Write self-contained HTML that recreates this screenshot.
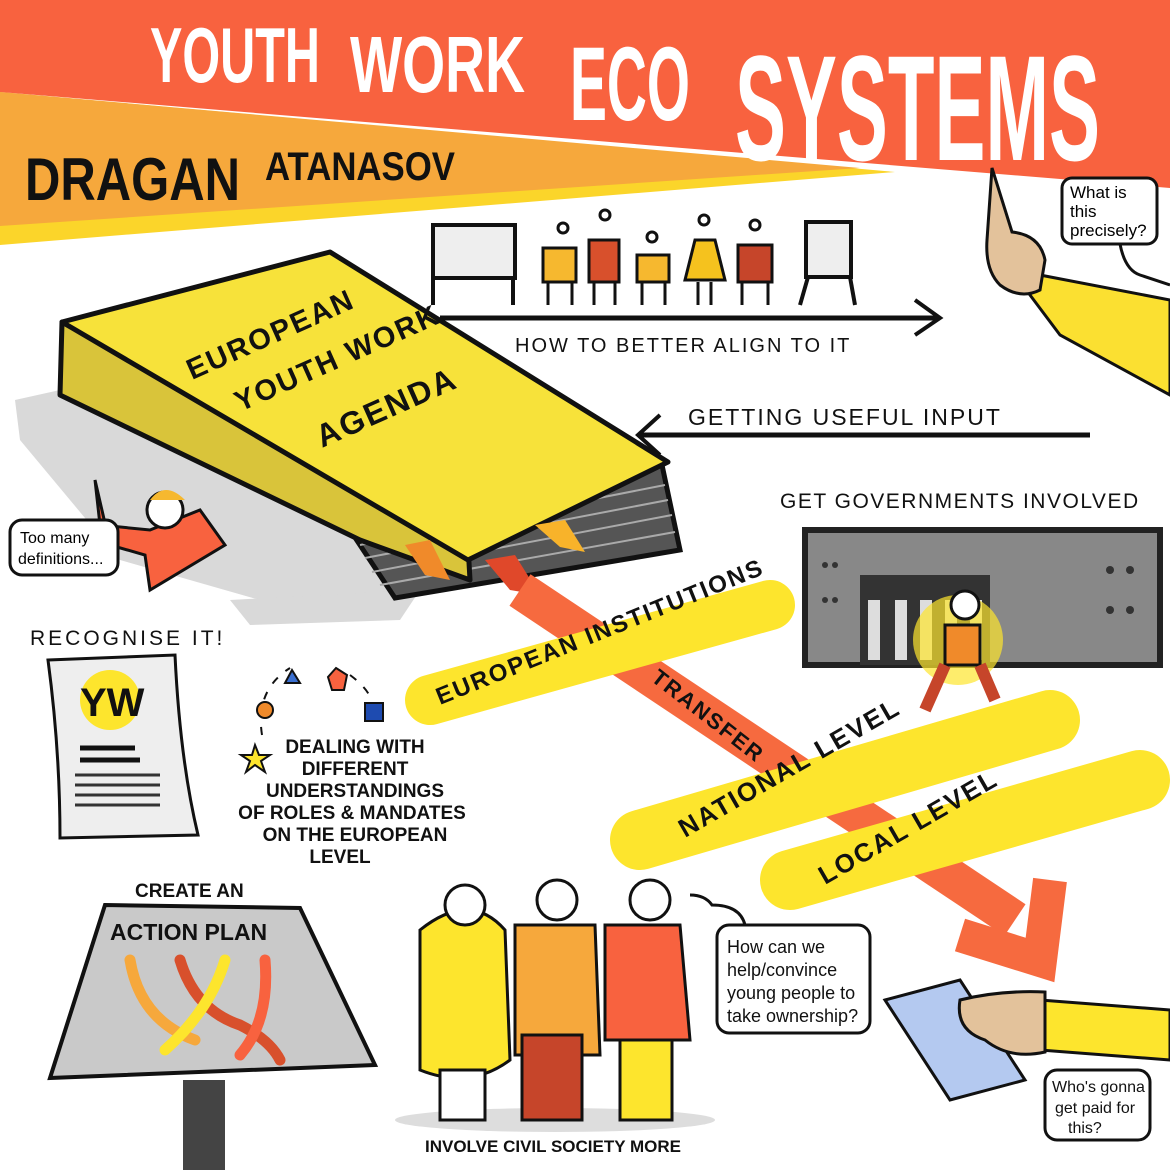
<!DOCTYPE html>
<html><head><meta charset="utf-8"><style>
html,body{margin:0;padding:0;background:#fff}
svg{display:block}
text{font-family:"Liberation Sans",sans-serif}
</style></head><body>
<svg width="1170" height="1170" viewBox="0 0 1170 1170" xmlns="http://www.w3.org/2000/svg">
<rect width="1170" height="1170" fill="#fff"/>
<!-- banners -->
<polygon points="0,92 0,245 895,172" fill="#fbd52a"/>
<polygon points="0,92 0,226 860,168" fill="#f6a83c"/>
<polygon points="0,0 1170,0 1170,188 0,92" fill="#f8623f"/>
<g fill="#fff" font-weight="bold" font-family="Liberation Sans Narrow, Liberation Sans, sans-serif">
<text x="150" y="82" font-size="78" textLength="170" lengthAdjust="spacingAndGlyphs">YOUTH</text>
<text x="350" y="92" font-size="80" textLength="175" lengthAdjust="spacingAndGlyphs">WORK</text>
<text x="570" y="120" font-size="105" textLength="120" lengthAdjust="spacingAndGlyphs">ECO</text>
<text x="735" y="160" font-size="150" textLength="365" lengthAdjust="spacingAndGlyphs">SYSTEMS</text>
</g>
<g fill="#111" font-weight="bold">
<text x="25" y="200" font-size="60" textLength="215" lengthAdjust="spacingAndGlyphs">DRAGAN</text>
<text x="265" y="180" font-size="40" textLength="190" lengthAdjust="spacingAndGlyphs">ATANASOV</text>
</g>
<!-- top right hand -->
<polygon points="1040,275 1170,300 1170,395 1060,335 1030,295" fill="#fbe031" stroke="#111" stroke-width="3"/>
<path d="M992,168 L1012,232 Q1040,235 1045,260 L1040,290 Q1020,300 1000,285 Q985,270 987,240 Z" fill="#e3c29b" stroke="#111" stroke-width="3"/>
<rect x="1062" y="178" width="95" height="66" rx="10" fill="#fff" stroke="#111" stroke-width="3"/>
<text x="1070" y="198" font-size="17">What is</text><text x="1070" y="217" font-size="17">this</text><text x="1070" y="236" font-size="17">precisely?</text>
<path d="M1120,244 Q1125,270 1140,275 Q1155,280 1170,285" fill="none" stroke="#111" stroke-width="3"/>
<!-- flipcharts & people -->
<rect x="433" y="225" width="82" height="53" fill="#eee" stroke="#111" stroke-width="4"/>
<line x1="433" y1="278" x2="433" y2="305" stroke="#111" stroke-width="4"/><line x1="513" y1="278" x2="513" y2="305" stroke="#111" stroke-width="4"/>
<rect x="806" y="222" width="45" height="55" fill="#eee" stroke="#111" stroke-width="4"/>
<line x1="808" y1="277" x2="800" y2="305" stroke="#111" stroke-width="4"/><line x1="850" y1="277" x2="855" y2="305" stroke="#111" stroke-width="4"/>
<g stroke="#111" stroke-width="3">
<circle cx="563" cy="228" r="5" fill="#fff"/><rect x="543" y="248" width="33" height="34" fill="#f6b82f"/>
<circle cx="605" cy="215" r="5" fill="#fff"/><rect x="589" y="240" width="30" height="42" fill="#d8502c"/>
<circle cx="652" cy="237" r="5" fill="#fff"/><rect x="637" y="255" width="32" height="27" fill="#f6b82f"/>
<circle cx="704" cy="220" r="5" fill="#fff"/><polygon points="695,240 715,240 725,280 685,280" fill="#f5c21e"/>
<circle cx="755" cy="225" r="5" fill="#fff"/><rect x="738" y="245" width="34" height="37" fill="#c6452a"/>
</g>
<g stroke="#111" stroke-width="3">
<line x1="548" y1="282" x2="548" y2="305"/><line x1="572" y1="282" x2="572" y2="305"/>
<line x1="594" y1="282" x2="594" y2="305"/><line x1="615" y1="282" x2="615" y2="305"/>
<line x1="642" y1="282" x2="642" y2="305"/><line x1="665" y1="282" x2="665" y2="305"/>
<line x1="698" y1="282" x2="698" y2="305"/><line x1="711" y1="282" x2="711" y2="305"/>
<line x1="742" y1="282" x2="742" y2="305"/><line x1="768" y1="282" x2="768" y2="305"/>
</g>
<line x1="440" y1="318" x2="940" y2="318" stroke="#111" stroke-width="5"/>
<polyline points="915,300 940,318 915,335" fill="none" stroke="#111" stroke-width="4"/>
<text x="515" y="352" font-size="20" letter-spacing="2" fill="#111">HOW TO BETTER ALIGN TO IT</text>
<text x="688" y="425" font-size="23" letter-spacing="2" fill="#111">GETTING USEFUL INPUT</text>
<line x1="640" y1="435" x2="1090" y2="435" stroke="#111" stroke-width="5"/>
<polyline points="660,415 638,435 660,455" fill="none" stroke="#111" stroke-width="4"/>
<!-- shadow -->
<polygon points="15,400 60,390 360,540 400,600 420,590 260,600 120,560 20,440" fill="#d9d9d9"/>
<polygon points="230,600 420,590 400,620 250,625" fill="#d9d9d9"/>
<!-- book -->
<polygon points="350,530 662,465 680,550 395,598" fill="#555" stroke="#111" stroke-width="5"/>
<g stroke="#aaa" stroke-width="2"><line x1="360" y1="545" x2="665" y2="485"/><line x1="365" y1="558" x2="668" y2="500"/><line x1="372" y1="572" x2="672" y2="515"/><line x1="380" y1="585" x2="675" y2="532"/></g>
<polygon points="62,322 60,395 360,540 470,580 468,545" fill="#d9c43a" stroke="#111" stroke-width="5" stroke-linejoin="round"/>
<polygon points="62,322 330,252 668,462 468,560" fill="#f7e23a" stroke="#111" stroke-width="5" stroke-linejoin="round"/>
<polygon points="405,545 430,540 450,580 425,575" fill="#f08a2a"/>
<polygon points="535,525 565,520 585,552 560,547" fill="#f8b32a"/>
<polygon points="485,560 515,555 540,595 510,590" fill="#e0482a"/>
<g font-weight="bold" font-size="29" fill="#111" letter-spacing="2">
<text transform="translate(192,380) rotate(-24)">EUROPEAN</text>
<text transform="translate(240,412) rotate(-24)">YOUTH WORK</text>
<text transform="translate(322,448) rotate(-24)" font-size="32">AGENDA</text>
</g>
<!-- transfer stripe -->
<line x1="520" y1="590" x2="1015" y2="920" stroke="#f66a3f" stroke-width="38"/>
<polyline points="960,935 1040,960 1050,880" fill="none" stroke="#f66a3f" stroke-width="34"/>
<!-- person left -->
<path d="M95,480 L100,525 L150,530 L200,510 L225,545 L150,590 L145,555 L110,545 Z" fill="#f8623f" stroke="#111" stroke-width="3"/>
<circle cx="165" cy="510" r="18" fill="#fff" stroke="#111" stroke-width="3"/>
<path d="M150,500 Q165,480 185,500" fill="#f6b82f"/>
<rect x="10" y="520" width="108" height="55" rx="12" fill="#fff" stroke="#111" stroke-width="3"/>
<text x="20" y="543" font-size="16">Too many</text><text x="18" y="564" font-size="16">definitions...</text>
<!-- building -->
<rect x="805" y="530" width="355" height="135" fill="#888" stroke="#222" stroke-width="6"/>
<rect x="860" y="575" width="130" height="90" fill="#333"/>
<g fill="#ddd"><rect x="868" y="600" width="12" height="60"/><rect x="895" y="600" width="12" height="60"/><rect x="920" y="600" width="12" height="60"/><rect x="945" y="600" width="12" height="60"/><rect x="970" y="600" width="12" height="60"/></g>
<g fill="#333"><circle cx="825" cy="565" r="3"/><circle cx="835" cy="565" r="3"/><circle cx="825" cy="600" r="3"/><circle cx="835" cy="600" r="3"/><circle cx="1110" cy="570" r="4"/><circle cx="1130" cy="570" r="4"/><circle cx="1110" cy="610" r="4"/><circle cx="1130" cy="610" r="4"/></g>
<text x="780" y="508" font-size="21" letter-spacing="1.5" fill="#111">GET GOVERNMENTS INVOLVED</text>
<!-- yellow strokes -->
<line x1="430" y1="700" x2="770" y2="605" stroke="#fde52d" stroke-width="50" stroke-linecap="round"/>
<line x1="640" y1="840" x2="1050" y2="720" stroke="#fde52d" stroke-width="60" stroke-linecap="round"/>
<line x1="790" y1="880" x2="1140" y2="780" stroke="#fde52d" stroke-width="60" stroke-linecap="round"/>
<g font-weight="bold" font-size="24" fill="#111" letter-spacing="2">
<text transform="translate(440,705) rotate(-22)">EUROPEAN INSTITUTIONS</text>
<text transform="translate(685,838) rotate(-30)" font-size="26">NATIONAL LEVEL</text>
<text transform="translate(825,885) rotate(-30)" font-size="26">LOCAL LEVEL</text>
<text transform="translate(650,680) rotate(38)" font-size="22">TRANSFER</text>
</g>
<!-- running person -->
<circle cx="958" cy="640" r="45" fill="#fde52d" opacity="0.7"/>
<circle cx="965" cy="605" r="14" fill="#fff" stroke="#111" stroke-width="3"/>
<rect x="945" y="625" width="35" height="40" fill="#f08a2a" stroke="#111" stroke-width="3"/>
<path d="M945,665 L925,710 M980,665 L995,700" stroke="#c6452a" stroke-width="12"/>
<!-- recognise -->
<text x="30" y="645" font-size="21" letter-spacing="3" fill="#111">RECOGNISE IT!</text>
<path d="M48,660 L175,655 Q180,760 198,835 L60,838 Q60,750 48,660 Z" fill="#eee" stroke="#111" stroke-width="3"/>
<circle cx="110" cy="700" r="30" fill="#fde52d"/>
<text x="80" y="716" font-size="40" font-weight="bold" fill="#111">YW</text>
<g stroke="#111" stroke-width="5"><line x1="80" y1="748" x2="135" y2="748"/><line x1="80" y1="760" x2="140" y2="760"/></g>
<g stroke="#333" stroke-width="3"><line x1="75" y1="775" x2="160" y2="775"/><line x1="75" y1="785" x2="160" y2="785"/><line x1="75" y1="795" x2="160" y2="795"/><line x1="75" y1="805" x2="160" y2="805"/></g>
<!-- dealing shapes -->
<path d="M262,735 Q255,690 290,668 M350,675 Q370,690 372,703" fill="none" stroke="#111" stroke-width="2" stroke-dasharray="8,10"/>
<circle cx="265" cy="710" r="8" fill="#f08a2a" stroke="#111" stroke-width="2"/>
<polygon points="292,670 300,683 285,683" fill="#3a6fd0" stroke="#111" stroke-width="2"/>
<polygon points="336,668 347,675 344,690 332,690 328,677" fill="#f8623f" stroke="#111" stroke-width="2"/>
<rect x="365" y="703" width="18" height="18" fill="#1e4bb0" stroke="#111" stroke-width="2"/>
<path d="M255,745 L259,755 L270,755 L261,761 L265,772 L255,765 L246,772 L250,761 L241,755 L252,755 Z" fill="#fde52d" stroke="#111" stroke-width="2"/>
<g font-weight="bold" font-size="19" fill="#111" text-anchor="middle">
<text x="355" y="753">DEALING WITH</text><text x="355" y="775">DIFFERENT</text><text x="355" y="797">UNDERSTANDINGS</text>
<text x="352" y="819">OF ROLES &amp; MANDATES</text><text x="355" y="841">ON THE EUROPEAN</text><text x="340" y="863">LEVEL</text>
</g>
<!-- action plan -->
<text x="135" y="897" font-size="19" font-weight="bold" fill="#111">CREATE AN</text>
<rect x="183" y="1080" width="42" height="90" fill="#444"/>
<polygon points="105,905 300,908 375,1065 50,1078" fill="#c9c9c9" stroke="#111" stroke-width="4"/>
<text x="110" y="940" font-size="23" font-weight="bold" fill="#111">ACTION PLAN</text>
<g fill="none" stroke-width="11" stroke-linecap="round">
<path d="M130,960 Q140,1020 195,1040" stroke="#f6a83c"/>
<path d="M180,960 Q195,1010 240,1025 Q270,1040 280,1060" stroke="#d8502c"/>
<path d="M225,960 Q210,1010 165,1050" stroke="#fde52d"/>
<path d="M265,960 Q270,1020 240,1055" stroke="#f8623f"/>
</g>
<!-- people -->
<ellipse cx="555" cy="1120" rx="160" ry="12" fill="#ddd"/>
<path d="M420,930 Q470,890 505,930 L510,1060 Q470,1090 420,1070 Z" fill="#fde52d" stroke="#111" stroke-width="3"/>
<rect x="440" y="1070" width="45" height="50" fill="#fff" stroke="#111" stroke-width="3"/>
<circle cx="465" cy="905" r="20" fill="#fff" stroke="#111" stroke-width="3"/>
<path d="M515,925 L595,925 L600,1055 L515,1055 Z" fill="#f6a83c" stroke="#111" stroke-width="3"/>
<rect x="522" y="1035" width="60" height="85" fill="#c6452a" stroke="#111" stroke-width="3"/>
<circle cx="557" cy="900" r="20" fill="#fff" stroke="#111" stroke-width="3"/>
<path d="M605,925 L680,925 L690,1040 L605,1040 Z" fill="#f8623f" stroke="#111" stroke-width="3"/>
<rect x="620" y="1040" width="52" height="80" fill="#fde52d" stroke="#111" stroke-width="3"/>
<circle cx="650" cy="900" r="20" fill="#fff" stroke="#111" stroke-width="3"/>
<text x="425" y="1152" font-size="17" font-weight="bold" fill="#111">INVOLVE CIVIL SOCIETY MORE</text>
<path d="M690,895 Q705,895 712,905 Q740,905 745,925" fill="none" stroke="#111" stroke-width="3"/>
<rect x="717" y="925" width="153" height="108" rx="12" fill="#fff" stroke="#111" stroke-width="3"/>
<g font-size="18" fill="#111"><text x="727" y="953">How can we</text><text x="727" y="976">help/convince</text><text x="727" y="999">young people to</text><text x="727" y="1022">take ownership?</text></g>
<!-- money hand -->
<polygon points="1040,1000 1170,1010 1170,1060 1040,1050" fill="#fde52d" stroke="#111" stroke-width="3"/>
<polygon points="885,1000 960,980 1025,1080 950,1100" fill="#b4c9f0" stroke="#111" stroke-width="3"/>
<path d="M960,1000 Q1000,990 1045,992 L1045,1052 Q1010,1060 985,1040 Q955,1030 960,1000 Z" fill="#e3c29b" stroke="#111" stroke-width="3"/>
<rect x="1045" y="1070" width="105" height="70" rx="12" fill="#fff" stroke="#111" stroke-width="3"/>
<g font-size="16" fill="#111"><text x="1052" y="1092">Who's gonna</text><text x="1055" y="1113">get paid for</text><text x="1068" y="1133">this?</text></g>
</svg>
</body></html>
